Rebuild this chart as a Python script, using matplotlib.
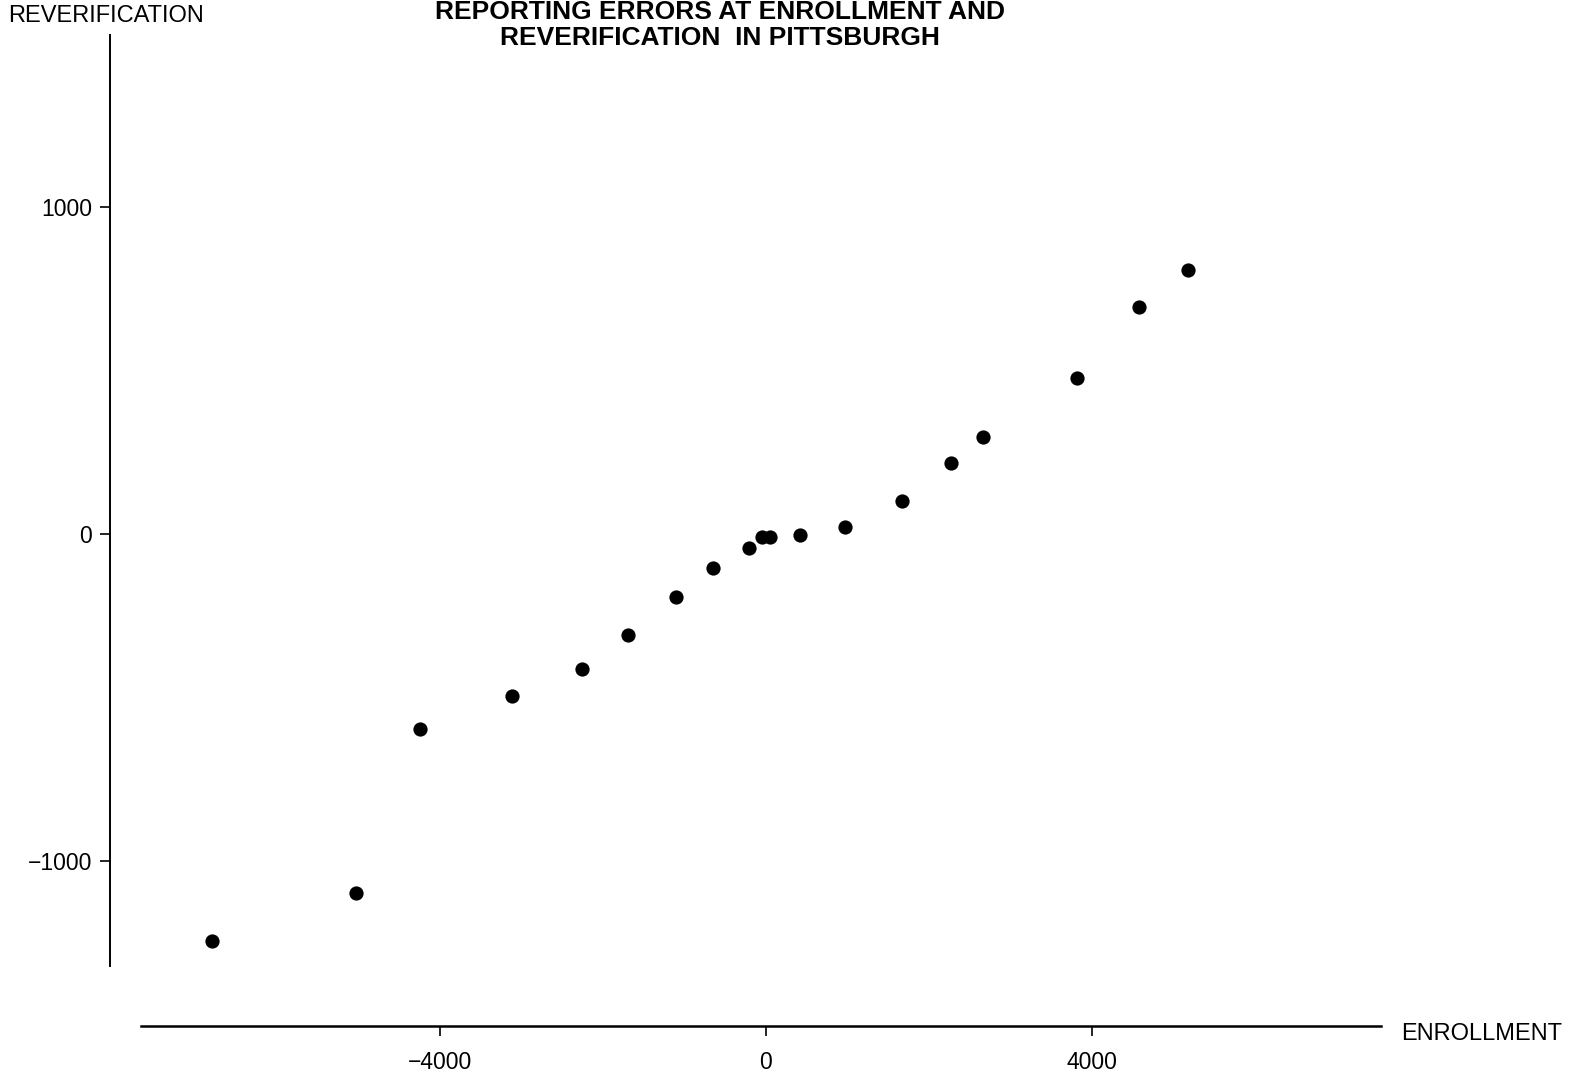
import matplotlib
matplotlib.use("Agg")
import matplotlib.pyplot as plt

enrollment = [-6794, -5022, -4246, -3114, -2252, -1686, -1108, -652, -209, -49, 49,
              418, 972, 1662, 2265, 2658, 3815, 4566, 5169]
reverification = [-1246, -1098, -597, -495, -412, -308, -194, -105, -43, -9, -9,
                  -3, 22, 102, 218, 295, 477, 695, 806]
x_ticks = [-4000, 0, 4000]
x_tick_labels = ["\u22124000", "0", "4000"]
y_ticks = [-1000, 0, 1000]
y_tick_labels = ["\u22121000", "0", "1000"]

plt.rcParams['font.family'] = ['Liberation Sans', 'DejaVu Sans']

fig = plt.figure(figsize=(15.75, 10.73), dpi=100)
ax = fig.add_axes([110/1575, 1-1026/1073, (1381-110)/1575, (1026-35)/1073])

ax.scatter(enrollment, reverification, s=105, color='black', zorder=3, linewidths=0)

ax.set_xlim(-8039, 7537)
ax.set_ylim(-1505, 1526)

for s in ['top', 'right']:
    ax.spines[s].set_visible(False)
ax.spines['left'].set_linewidth(1.4)
ax.spines['bottom'].set_linewidth(1.8)
ax.spines['left'].set_bounds(-1321, 1526)
ax.spines['bottom'].set_bounds(-7659, 7537)

ax.set_xticks(x_ticks)
ax.set_xticklabels(x_tick_labels)
ax.set_yticks(y_ticks)
ax.set_yticklabels(y_tick_labels)
ax.tick_params(axis='both', direction='out', length=7, width=1.2, labelsize=16.5)
ax.tick_params(axis='x', pad=11)
ax.tick_params(axis='y', pad=6)

fig.text(8/1575, 1-16/1073, "REVERIFICATION", fontsize=17, ha='left', va='center')
fig.text(1401/1575, 1-1034/1073, "ENROLLMENT", fontsize=17, ha='left', va='center')
fig.text(720/1575, 1-12/1073, "REPORTING ERRORS AT ENROLLMENT AND", fontsize=19,
         fontweight='bold', ha='center', va='center')
fig.text(720/1575, 1-38/1073, "REVERIFICATION  IN PITTSBURGH", fontsize=19,
         fontweight='bold', ha='center', va='center')

fig.savefig("out.png", dpi=100, facecolor='white')
